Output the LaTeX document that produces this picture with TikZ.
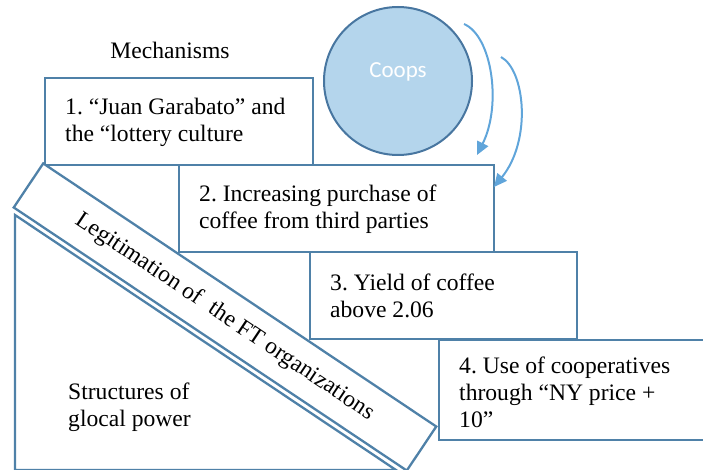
\documentclass[tikz,border=0pt]{standalone}
\usepackage{fontspec}
\setmainfont{Liberation Serif}
\newfontfamily\coopsfont{Carlito}
\usetikzlibrary{arrows.meta}
\definecolor{edgeblue}{RGB}{79,129,168}
\definecolor{circfill}{RGB}{180,213,236}
\definecolor{circedge}{RGB}{72,118,160}
\definecolor{arrowblue}{RGB}{96,165,218}
\frenchspacing
\tikzset{
  boxstyle/.style={draw=edgeblue, line width=2.3pt, fill=white, rectangle, anchor=north west,
    inner sep=0pt},
  plaintext/.style={inner sep=0pt, align=left, font=\frenchspacing\fontsize{23.6}{27}\selectfont},
  boxtext/.style={plaintext, anchor=west, xshift=21pt},
  bandstyle/.style={draw=edgeblue, line width=2.3pt, fill=white, rectangle, inner sep=0pt,
    font=\frenchspacing\fontsize{23.6}{27}\selectfont},
  coopsarrow/.style={draw=arrowblue, line width=2pt, -{Triangle[length=13pt,width=12pt]}}
}
\begin{document}
\begin{tikzpicture}[x=1pt,y=-1pt]
\useasboundingbox (0,0) rectangle (703,470);
\clip (0,0) rectangle (703,470);
% triangle of structures
\draw[edgeblue, line width=2.3pt, line join=miter] (15,215) -- (15,470) -- (396,470) -- cycle;
\node[plaintext, anchor=west] (struct) at (68,407) {Structures of\\glocal power};
% heading
\node[plaintext] (mech) at (170,50) {Mechanisms};
% boxes
\node[boxstyle, minimum width=268pt, minimum height=87pt] (b1) at (44,77) {};
\node[boxtext] (t1) at ([yshift=-1pt]b1.west) {1. “Juan Garabato” and\\the “lottery culture};
\node[boxstyle, minimum width=315pt, minimum height=87pt] (b2) at (178,164) {};
\node[boxtext] (t2) at ([yshift=-1pt]b2.west) {2. Increasing purchase of\\coffee from third parties};
\node[boxstyle, minimum width=267pt, minimum height=87pt] (b3) at (309,251) {};
\node[boxtext] (t3) at (b3.west) {3. Yield of coffee\\above 2.06};
\node[boxstyle, minimum width=282pt, minimum height=100pt] (b4) at (438,339) {};
\node[boxtext] (t4) at ([yshift=-2pt]b4.west) {4. Use of cooperatives\\through “NY price +\\10”};
% diagonal band
\node[bandstyle, minimum width=473pt, minimum height=53pt, rotate=-33.8] (band) at (225,317)
  {Legitimation of\ \ the FT organizations};
% coops circle
\node[circle, draw=circedge, line width=2pt, fill=circfill, minimum size=148pt, inner sep=0pt] (coops) at (398,81) {};
\node[inner sep=0pt, text=white, font=\coopsfont\fontsize{23}{27}\selectfont] (coopslabel) at (398,72) {Coops};
% arrows
\coordinate (a1s) at (464,24);
\coordinate (a1e) at (477,155);
\coordinate (a2s) at (501,57);
\coordinate (a2e) at (494,187);
\draw[coopsarrow] (a1s) .. controls (492,36) and (502,105) .. (a1e);
\draw[coopsarrow] (a2s) .. controls (525,70) and (532,140) .. (a2e);
\end{tikzpicture}
\end{document}
